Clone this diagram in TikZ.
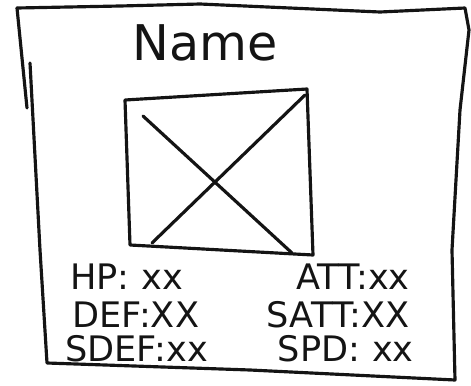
\documentclass[tikz,border=0pt]{standalone}
\usepackage{fontspec}
\setmainfont{DejaVu Sans}
\usetikzlibrary{positioning}
\definecolor{SketchInk}{HTML}{141414}
\begin{document}
\begin{tikzpicture}[
    x=0.02cm, y=-0.02cm,
    pen/.style={draw=SketchInk, line width=1.8pt, line join=round, line cap=round},
    title/.style={font=\fontsize{28}{32}\selectfont, text=SketchInk, inner sep=0pt},
    stat/.style={font=\fontsize{20}{24}\selectfont, text=SketchInk, inner sep=0pt}
  ]
  \useasboundingbox (0,0) rectangle (471,386);

  % card outline
  \draw[pen] (17,8) -- (120,6) -- (200,4) -- (380,12) -- (465,8) -- (469,30)
    -- (460,110) -- (452,250) -- (455,380) -- (250,370) -- (47,363)
    -- (40,250) -- (30,63);
  \draw[pen] (17,8) -- (27,108);

  \node[title] (name) at (205,43) {Name};

  % image placeholder
  \draw[pen] (125,100) -- (307,89) -- (313,255) -- (130,245) -- cycle;
  \draw[pen] (143,116) -- (292,253);
  \draw[pen] (305,95) -- (152,243);

  \node[stat, anchor=west] (hp) at (70,277) {HP:\,\,xx};
  \node[stat, anchor=east] (att) at (410,277) {ATT:xx};
  \node[stat, anchor=west] (def) at (72,315) {DEF:XX};
  \node[stat, anchor=east] (satt) at (410,315) {SATT:XX};
  \node[stat, anchor=west] (sdef) at (65,349) {SDEF:xx};
  \node[stat, anchor=east] (spd) at (414,349) {SPD:\,\,xx};
\end{tikzpicture}
\end{document}
